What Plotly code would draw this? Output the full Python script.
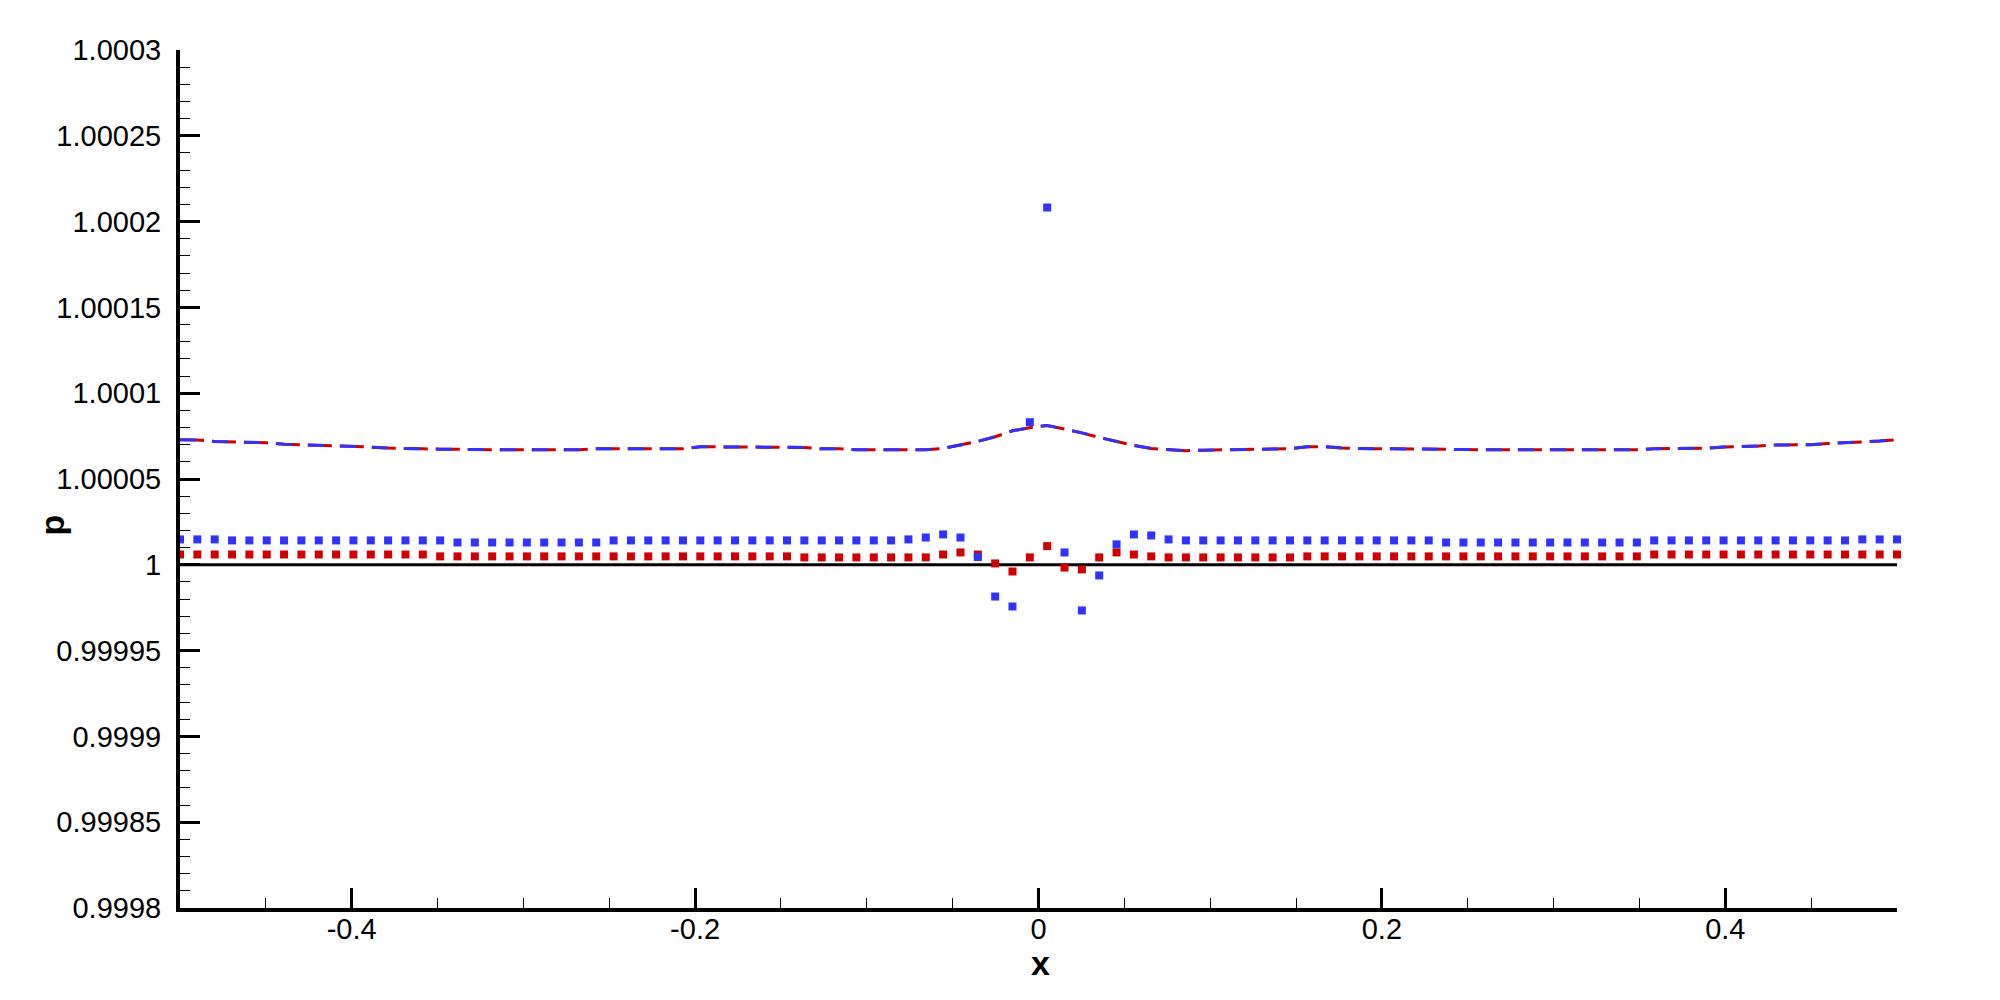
import numpy as np
import plotly.graph_objects as go

# grid: 100 equally spaced points on [-0.5, 0.5]
x = np.linspace(-0.5, 0.5, 100)

# deviations from 1, in units of 1e-6
line_dev = [
    72.9, 72.7, 71.9, 71.7, 71.3, 71.1, 70.3, 70.0, 69.8, 69.4,
    68.8, 68.6, 68.0, 67.6, 67.6, 67.4, 67.2, 67.0, 67.0, 67.0,
    67.0, 67.0, 67.0, 67.0, 67.6, 67.6, 67.6, 67.6, 67.6, 67.6,
    68.8, 68.8, 68.8, 68.8, 68.8, 68.8, 68.4, 67.6, 67.6, 67.0,
    67.0, 67.0, 67.0, 67.0, 67.8, 69.8, 71.9, 74.6, 78.1, 79.9,
    81.2, 79.1, 76.9, 74.2, 71.7, 69.6, 67.8, 67.0, 66.5, 66.8,
    67.0, 67.2, 67.6, 67.6, 67.6, 68.8, 68.8, 68.0, 67.6, 67.6,
    67.6, 67.6, 67.6, 67.6, 67.2, 67.0, 67.0, 67.0, 67.0, 67.0,
    67.0, 67.0, 67.0, 67.0, 67.0, 67.6, 67.6, 67.6, 68.0, 68.6,
    68.8, 69.2, 69.8, 70.0, 70.0, 70.7, 71.1, 71.5, 72.1, 72.9,
]

blue_dev = [
    14.8, 14.8, 14.8, 14.2, 14.2, 14.2, 14.2, 14.2, 14.2, 14.2,
    14.2, 14.2, 14.2, 14.2, 14.2, 14.2, 13.0, 13.0, 13.0, 13.0,
    13.0, 13.0, 13.0, 13.0, 13.0, 14.2, 14.2, 14.2, 14.2, 14.2,
    14.2, 14.2, 14.2, 14.2, 14.2, 14.2, 14.2, 14.2, 14.2, 14.2,
    14.2, 14.2, 14.8, 15.9, 17.7, 15.9, 4.5, -18.5, -24.3, 83.1,
    208.2, 7.2, -26.6, -6.2, 11.9, 17.7, 17.1, 14.8, 14.2, 14.2,
    14.2, 14.2, 14.2, 14.2, 14.2, 14.2, 14.2, 14.2, 14.2, 14.2,
    14.2, 14.2, 14.2, 13.0, 13.0, 13.0, 13.0, 13.0, 13.0, 13.0,
    13.0, 13.0, 13.0, 13.0, 13.0, 14.2, 14.2, 14.2, 14.2, 14.2,
    14.2, 14.2, 14.2, 14.2, 14.2, 14.2, 14.2, 14.8, 14.8, 14.8,
]

red_dev = [
    6.0, 6.0, 6.0, 6.0, 6.0, 6.0, 6.0, 6.0, 6.0, 6.0,
    6.0, 6.0, 6.0, 6.0, 6.0, 4.9, 4.9, 4.9, 4.9, 4.9,
    4.9, 4.9, 4.9, 4.9, 4.9, 4.9, 4.9, 4.9, 4.9, 4.9,
    4.9, 4.9, 4.9, 4.9, 4.9, 4.9, 4.3, 4.3, 4.3, 4.3,
    4.3, 4.3, 4.3, 4.3, 6.0, 7.2, 6.0, 0.8, -3.9, 4.3,
    10.9, -1.6, -2.7, 4.3, 7.2, 6.0, 4.9, 4.3, 4.3, 4.3,
    4.3, 4.3, 4.3, 4.3, 4.3, 4.9, 4.9, 4.9, 4.9, 4.9,
    4.9, 4.9, 4.9, 4.9, 4.9, 4.9, 4.9, 4.9, 4.9, 4.9,
    4.9, 4.9, 4.9, 4.9, 4.9, 6.0, 6.0, 6.0, 6.0, 6.0,
    6.0, 6.0, 6.0, 6.0, 6.0, 6.0, 6.0, 6.0, 6.0, 6.0,
]

x_exact = [-0.5, 0.5]
p_exact = [1.0, 1.0]

y_ticks = [0.9998, 0.99985, 0.9999, 0.99995, 1.0, 1.00005, 1.0001, 1.00015, 1.0002, 1.00025, 1.0003]
y_ticktext = ["0.9998", "0.99985", "0.9999", "0.99995", "1", "1.00005", "1.0001", "1.00015", "1.0002", "1.00025", "1.0003"]
x_ticks = [-0.4, -0.2, 0.0, 0.2, 0.4]
x_ticktext = ["-0.4", "-0.2", "0", "0.2", "0.4"]

BLUE = "#3232ff"
RED = "#d00000"
FONT = "Liberation Sans, Arial, sans-serif"

p_line = [1 + d * 1e-6 for d in line_dev]
p_blue = [1 + d * 1e-6 for d in blue_dev]
p_red = [1 + d * 1e-6 for d in red_dev]

fig = go.Figure()
fig.add_trace(go.Scatter(x=x_exact, y=p_exact, mode="lines",
                         line=dict(color="black", width=3), showlegend=False))
fig.add_trace(go.Scatter(x=x, y=p_line, mode="lines",
                         line=dict(color=RED, width=3, dash="24px,8px"), showlegend=False))
fig.add_trace(go.Scatter(x=x, y=p_line, mode="lines",
                         line=dict(color=BLUE, width=3, dash="16px,16px"), showlegend=False))
fig.add_trace(go.Scatter(x=x, y=p_red, mode="markers", cliponaxis=False,
                         marker=dict(symbol="square", size=8, color=RED, line=dict(width=0)),
                         showlegend=False))
fig.add_trace(go.Scatter(x=x, y=p_blue, mode="markers", cliponaxis=False,
                         marker=dict(symbol="square", size=8, color=BLUE, line=dict(width=0)),
                         showlegend=False))

axis_common = dict(
    showgrid=False,
    zeroline=False,
    showline=True,
    linecolor="black",
    linewidth=4,
    ticks="inside",
    ticklen=20,
    tickwidth=3,
    tickcolor="black",
    tickfont=dict(family=FONT, size=29, color="black"),
)

fig.update_layout(
    width=2000,
    height=1000,
    plot_bgcolor="white",
    paper_bgcolor="white",
    margin=dict(l=180, r=103, t=50, b=92),
    xaxis=dict(
        range=[-0.5, 0.5],
        tickmode="array",
        tickvals=x_ticks,
        ticktext=x_ticktext,
        ticklabelstandoff=-8,
        minor=dict(tick0=-0.5, dtick=0.05, ticks="inside", ticklen=10, tickwidth=1,
                   tickcolor="black", showgrid=False),
        **axis_common,
    ),
    yaxis=dict(
        range=[0.9998, 1.0003],
        tickmode="array",
        tickvals=y_ticks,
        ticktext=y_ticktext,
        ticklabelstandoff=9,
        minor=dict(tick0=0.9998, dtick=0.00001, ticks="inside", ticklen=10, tickwidth=1,
                   tickcolor="black", showgrid=False),
        **axis_common,
    ),
    annotations=[
        dict(text="<b>p</b>", xref="paper", yref="paper", x=-0.0745, y=0.446,
             textangle=-90, showarrow=False, xanchor="center", yanchor="middle",
             font=dict(family=FONT, size=34, color="black")),
        dict(text="<b>x</b>", xref="paper", yref="paper", x=0.5009, y=-0.064,
             showarrow=False, xanchor="center", yanchor="middle",
             font=dict(family=FONT, size=34, color="black")),
    ],
)

fig.write_html("out.html", config={"displayModeBar": False},
               post_script="document.body.style.margin='0';")
